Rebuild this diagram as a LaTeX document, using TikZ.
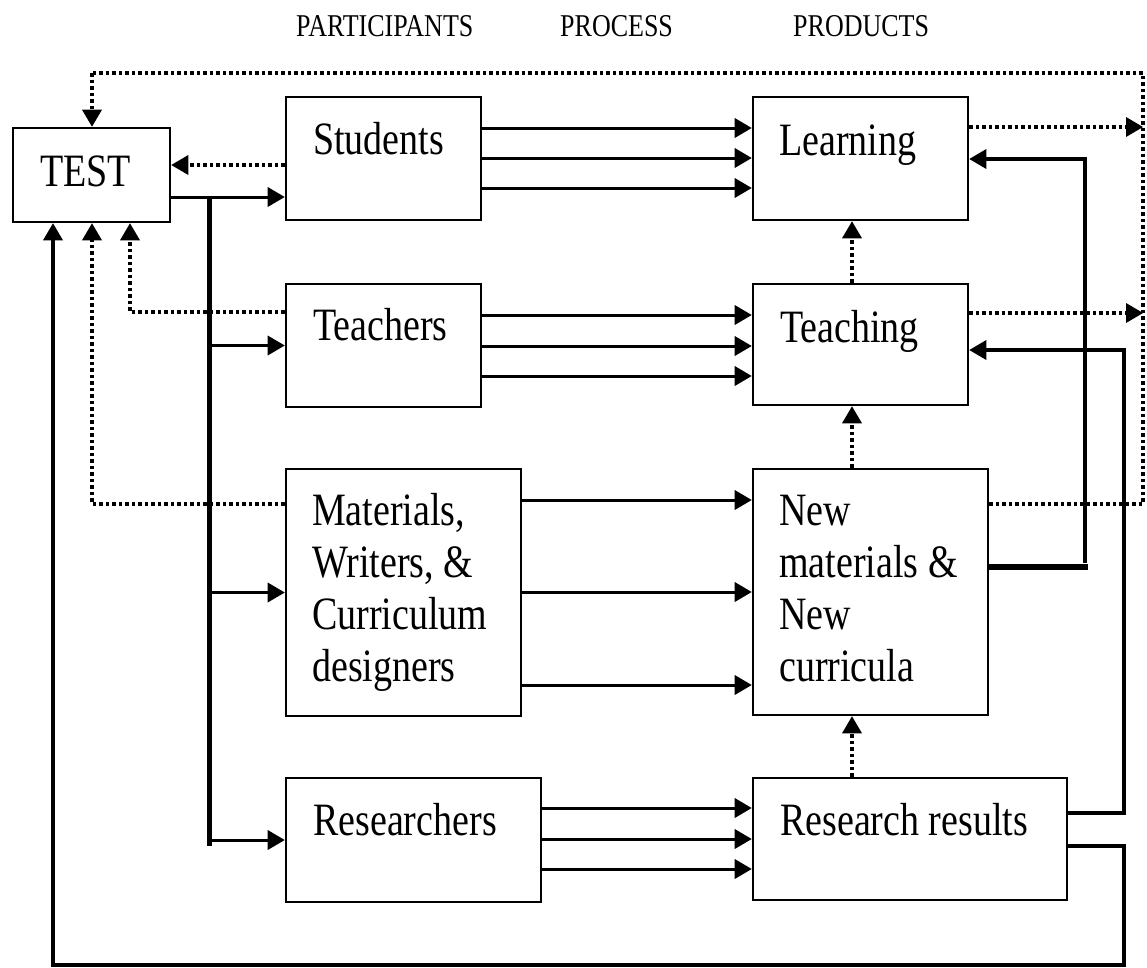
\documentclass[tikz,border=0pt]{standalone}
\usepackage{fontspec}
\setmainfont{Liberation Serif}
\usepackage{graphicx}
\usetikzlibrary{arrows.meta}

% text is set a little taller than wide
\newcommand{\tallt}[1]{\scalebox{1}[1.22]{#1}}
% box given by its left, top, right and bottom edges
\newcommand{\pbox}[5]{%
  \node[box, minimum width={#4-#2}, minimum height={#5-#3}] (#1)
    at ({(#2+#4)/2},{(#3+#5)/2}) {};}

\begin{document}
\begin{tikzpicture}[x=1pt, y=-1pt,
  box/.style={draw, line width=2.6pt, inner sep=0pt},
  txt/.style={font=\fontsize{38}{38}\selectfont, anchor=base west, inner sep=0pt},
  hdr/.style={font=\fontsize{26}{26}\selectfont, anchor=base west, inner sep=0pt},
  tipA/.tip={Triangle[length=17pt, width=20pt, line width=0pt]},
  arr/.style={line width=3pt, -tipA},
  bus/.style={line width=5pt},
  heavy/.style={line width=6pt},
  ret/.style={line width=3.6pt, -tipA},
  dots/.style={line width=3.5pt, dash pattern=on 3.5pt off 3pt},
  dotarr/.style={dots, -tipA}]

\useasboundingbox (0,0) rectangle (1147,967);

% column headings
\node[hdr] (h-part) at (296,36) {\tallt{PARTICIPANTS}};
\node[hdr] (h-proc) at (560,36) {\tallt{PROCESS}};
\node[hdr] (h-prod) at (793,36) {\tallt{PRODUCTS}};

% boxes
\pbox{test}{13}{128}{170}{222}
\pbox{students}{286}{97}{481}{220}
\pbox{teachers}{286}{284}{481}{407}
\pbox{materials}{286}{469}{521}{716}
\pbox{researchers}{286}{778}{541}{902}
\pbox{learning}{753}{97}{968}{220}
\pbox{teaching}{753}{284}{968}{405}
\pbox{newmat}{753}{469}{988}{715}
\pbox{results}{753}{778}{1067}{900}

% box texts
\node[txt] (test-t) at (40,186) {\tallt{TEST}};
\node[txt] (students-t) at (313,154) {\tallt{Students}};
\node[txt] (teachers-t) at (313,340) {\tallt{Teachers}};
\node[txt] (materials-t1) at (312,525) {\tallt{Materials,}};
\node[txt] (materials-t2) at (312,577) {\tallt{Writers, \&}};
\node[txt] (materials-t3) at (312,629) {\tallt{Curriculum}};
\node[txt] (materials-t4) at (312,681) {\tallt{designers}};
\node[txt] (researchers-t) at (313,835) {\tallt{Researchers}};
\node[txt] (learning-t) at (779,155) {\tallt{Learning}};
\node[txt] (teaching-t) at (780,342) {\tallt{Teaching}};
\node[txt] (newmat-t1) at (779,525) {\tallt{New}};
\node[txt] (newmat-t2) at (779,577) {\tallt{materials \&}};
\node[txt] (newmat-t3) at (779,629) {\tallt{New}};
\node[txt] (newmat-t4) at (779,681) {\tallt{curricula}};
\node[txt] (results-t) at (780,835) {\tallt{Research results}};

% TEST feeds every group of participants
\coordinate (bus-top) at (209,197);
\coordinate (bus-bot) at (209,846);
\draw[arr] (test.east |- bus-top) -- (students.west |- bus-top);
\draw[bus] (bus-top) -- (bus-bot);
\draw[arr] (bus-top |- teachers.west) -- (teachers.west);
\draw[arr] (bus-top |- materials.west) -- (materials.west);
\draw[arr] (bus-top |- researchers.west) -- (researchers.west);

% participants -> products
\foreach \y in {128,158,188}
  \draw[arr] (students.east |- 0,\y) -- (learning.west |- 0,\y);
\foreach \y in {315,346,376}
  \draw[arr] (teachers.east |- 0,\y) -- (teaching.west |- 0,\y);
\foreach \y in {500,592,685}
  \draw[arr] (materials.east |- 0,\y) -- (newmat.west |- 0,\y);
\foreach \y in {808,839,869}
  \draw[arr] (researchers.east |- 0,\y) -- (results.west |- 0,\y);

% products build on one another
\draw[dotarr] (852,0 |- teaching.north) -- (852,0 |- learning.south);
\draw[dotarr] (852,0 |- newmat.north) -- (852,0 |- teaching.south);
\draw[dotarr] (852,0 |- results.north) -- (852,0 |- newmat.south);

% dotted returns to TEST
\draw[dotarr] (students.west |- 0,165) -- (test.east |- 0,165);
\draw[dotarr] (teachers.west |- 0,312) -| (130,0 |- test.south);
\draw[dotarr] (materials.west |- 0,504) -| (92,0 |- test.south);

\coordinate (loop-ne) at (1143,73);
\coordinate (loop-se) at (1143,504);
\coordinate (loop-nw) at (92,73);
\draw[dots] (newmat.east |- loop-se) -- (loop-se) -- (loop-ne) -- (loop-nw);
\draw[dotarr] (loop-nw) -- (loop-nw |- test.north);
\draw[dotarr] (learning.east |- 0,127) -- (loop-ne |- 0,127);
\draw[dotarr] (teaching.east |- 0,313) -- (loop-ne |- 0,313);

% solid returns
\coordinate (rail-a) at (1085,567);
\coordinate (rail-b) at (1124,813);
\coordinate (rail-c) at (1124,846);
\coordinate (floor) at (1124,965);
\draw[heavy] (newmat.east |- rail-a) -- ([xshift=3pt]rail-a);
\draw[ret] ([yshift=4pt]rail-a) -- (rail-a |- 0,159) -- (learning.east |- 0,159);
\draw[ret] (results.east |- rail-b) -- (rail-b) -- (rail-b |- 0,350) -- (teaching.east |- 0,350);
\draw[ret] (results.east |- rail-c) -- (rail-c) -- (floor) -- (53,965) -- (53,0 |- test.south);

\end{tikzpicture}
\end{document}
